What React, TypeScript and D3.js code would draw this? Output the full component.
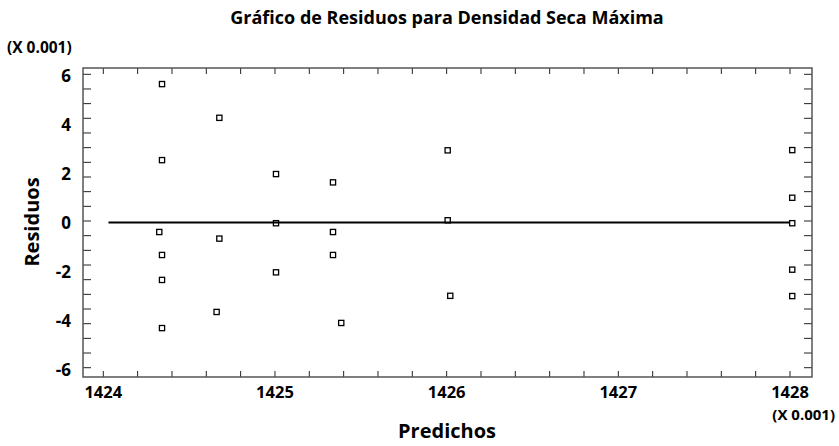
import React from "react";
import * as d3 from "d3";

const predichos: number[] = [
  1424.342, 1424.342, 1424.326, 1424.342, 1424.342, 1424.342,
  1424.676, 1424.676, 1424.66,
  1425.006, 1425.006, 1425.006,
  1425.338, 1425.338, 1425.338, 1425.386,
  1426.006, 1426.006, 1426.021,
  1428.013, 1428.013, 1428.013, 1428.013, 1428.013,
];
const residuos: number[] = [
  5.6, 2.49, -0.45, -1.39, -2.41, -4.38,
  4.22, -0.72, -3.72,
  1.92, -0.09, -2.1,
  1.58, -0.45, -1.39, -4.17,
  2.89, 0.03, -3.06,
  2.9, 0.95, -0.09, -1.99, -3.07,
];
const xTickLabels: number[] = [1424, 1425, 1426, 1427, 1428];
const yTickLabels: number[] = [-6, -4, -2, 0, 2, 4, 6];
const xMinorStep = 0.2;
const yMinorStep = 0.6;
const zeroLineRange: [number, number] = [1424.03, 1428.0];

const W = 839;
const H = 446;
const FONT = "'Open Sans', 'DejaVu Sans', sans-serif";

export default function App() {
  const left = 83, right = 812, top = 68, bottom = 377;
  const x = d3.scaleLinear().domain([1424, 1428]).range([103.3, 790]);
  const y = d3.scaleLinear().domain([-6, 6]).range([367.7, 74.3]);

  const xMinor = d3.range(0, 21).map((i) => 1424 + i * xMinorStep);
  const yMinor = d3.range(0, 21).map((i) => -6 + i * yMinorStep);

  const frame = "#555";
  return (
    <svg width={W} height={H} style={{ position: "absolute", left: 0, top: 0, background: "#fff" }}>
      <text x={447} y={24} textAnchor="middle" fontFamily={FONT} fontWeight="bold" fontSize={18} fill="#000">
        Gráfico de Residuos para Densidad Seca Máxima
      </text>
      <text x={7} y={53} fontFamily={FONT} fontWeight="bold" fontSize={15.5} fill="#000">
        (X 0.001)
      </text>
      <text x={835} y={420} textAnchor="end" fontFamily={FONT} fontWeight="bold" fontSize={15} fill="#000">
        (X 0.001)
      </text>

      {/* ticks */}
      {xMinor.map((v, i) => (
        <g key={"xt" + i}>
          <line x1={x(v)} x2={x(v)} y1={bottom} y2={bottom - 6} stroke="#222" strokeWidth={1} />
          <line x1={x(v)} x2={x(v)} y1={top} y2={top + 6} stroke="#222" strokeWidth={1} />
        </g>
      ))}
      {yMinor.map((v, i) => (
        <g key={"yt" + i}>
          <line x1={left} x2={left + 8} y1={y(v)} y2={y(v)} stroke="#222" strokeWidth={1} />
          <line x1={right} x2={right - 8} y1={y(v)} y2={y(v)} stroke="#222" strokeWidth={1} />
        </g>
      ))}

      <rect x={left} y={top} width={right - left} height={bottom - top} fill="none" stroke={frame} strokeWidth={1.5} />

      {xTickLabels.map((v) => (
        <text key={"xl" + v} x={x(v)} y={398} textAnchor="middle" fontFamily={FONT} fontWeight="bold" fontSize={16.5} fill="#000">
          {v}
        </text>
      ))}
      {yTickLabels.map((v) => (
        <text key={"yl" + v} x={71} y={y(v) + 8} textAnchor="end" fontFamily={FONT} fontWeight="bold" fontSize={17} fill="#000">
          {v}
        </text>
      ))}

      <line x1={x(zeroLineRange[0])} x2={x(zeroLineRange[1])} y1={y(0) + 1.5} y2={y(0) + 1.5} stroke="#000" strokeWidth={2} />

      {predichos.map((p, i) => (
        <rect key={"p" + i} x={x(p) - 2.6} y={y(residuos[i]) - 2.6} width={5.2} height={5.2} fill="#fff" fillOpacity={0} stroke="#000" strokeWidth={1.3} />
      ))}

      <text x={447} y={438} textAnchor="middle" fontFamily={FONT} fontWeight="bold" fontSize={20} fill="#000">
        Predichos
      </text>
      <text transform={`translate(39,${222}) rotate(-90)`} textAnchor="middle" fontFamily={FONT} fontWeight="bold" fontSize={20} fill="#000">
        Residuos
      </text>
    </svg>
  );
}
